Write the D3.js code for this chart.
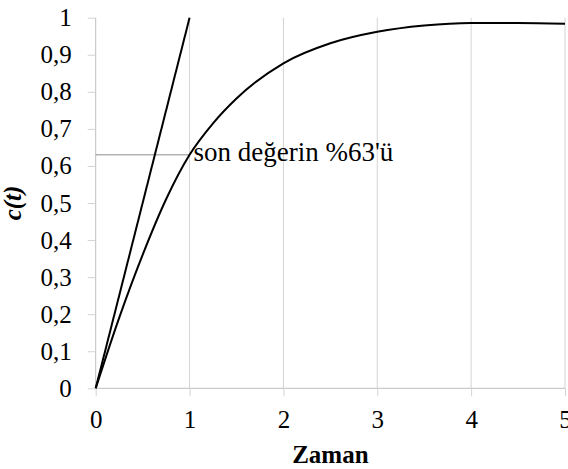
<!DOCTYPE html>
<html>
<head>
<meta charset="utf-8">
<script src="https://cdn.jsdelivr.net/npm/d3@7"></script>
<style>
  body { margin: 0; background: #fff; }
  svg { display: block; }
  text { font-family: "Liberation Serif", "Times New Roman", serif; }
</style>
</head>
<body>
<svg width="568" height="469"></svg>
<script>
// response curve c(t)
var timeVals = [0, 0.25, 0.5, 0.75, 1, 1.25, 1.5, 2, 2.5, 3, 3.5, 4, 4.5, 5]
var cVals    = [0, 0.19, 0.36, 0.51, 0.63, 0.715, 0.782, 0.877, 0.931, 0.962, 0.979, 0.986, 0.986, 0.984]
// tangent at the origin
var tangentT = [0, 1]
var tangentC = [0, 1]
var markLevel = 0.63
var markLabel = "son değerin %63'ü"
var xTicks = [0, 1, 2, 3, 4, 5]
var yTicks = [0, 0.1, 0.2, 0.3, 0.4, 0.5, 0.6, 0.7, 0.8, 0.9, 1]

var svg = d3.select("svg")
var pLeft = 95.7, pRight = 565, pTop = 17.7, pBottom = 388.3

var x = d3.scaleLinear().domain([0, 5]).range([pLeft, pRight])
var y = d3.scaleLinear().domain([0, 1]).range([pBottom, pTop])

// vertical gridlines
svg.append("g")
    .selectAll("line")
    .data(xTicks.slice(1))
    .enter().append("line")
    .attr("x1", d => x(d)).attr("x2", d => x(d))
    .attr("y1", pTop).attr("y2", pBottom)
    .style("stroke", "#d4d4d4")
    .style("stroke-width", 1)

var fmt = d => String(d).replace(".", ",")

var xAxis = svg.append("g")
    .attr("transform", "translate(0," + pBottom + ")")
    .call(d3.axisBottom(x).tickValues(xTicks).tickSize(8).tickPadding(14).tickFormat(fmt))
var yAxis = svg.append("g")
    .attr("transform", "translate(" + pLeft + ",0)")
    .call(d3.axisLeft(y).tickValues(yTicks).tickSize(8).tickPadding(16).tickFormat(fmt))

;[xAxis, yAxis].forEach(function(a) {
    a.attr("font-family", "'Liberation Serif', serif")
    a.select(".domain").style("stroke", "#bfbfbf").attr("d", function() {
        return a === xAxis ? "M" + pLeft + ",0H" + pRight : "M0," + pTop + "V" + pBottom
    })
    a.selectAll(".tick line").style("stroke", "#d4d4d4")
    a.selectAll("text").style("font-size", "25px").style("fill", "#000")
        .style("font-family", "'Liberation Serif', serif")
})

// 63% marker line
svg.append("line")
    .attr("x1", x(0)).attr("x2", x(1))
    .attr("y1", y(markLevel)).attr("y2", y(markLevel))
    .style("stroke", "#8c8c8c")
    .style("stroke-width", 1)

var line = d3.line()
    .x(d => x(d[0]))
    .y(d => y(d[1]))

svg.append("path")
    .attr("d", line.curve(d3.curveMonotoneX)(d3.zip(timeVals, cVals)))
    .style("fill", "none")
    .style("stroke", "#000")
    .style("stroke-width", 2)

svg.append("path")
    .attr("d", line.curve(d3.curveLinear)(d3.zip(tangentT, tangentC)))
    .style("fill", "none")
    .style("stroke", "#000")
    .style("stroke-width", 2)

svg.append("text")
    .attr("x", x(1) + 4)
    .attr("y", y(markLevel) + 6)
    .style("font-size", "27px")
    .text(markLabel)

svg.append("text")
    .attr("x", (pLeft + pRight) / 2)
    .attr("y", 463)
    .attr("text-anchor", "middle")
    .style("font-size", "25px")
    .style("font-weight", "bold")
    .text("Zaman")

svg.append("text")
    .attr("transform", "translate(21," + ((pTop + pBottom) / 2) + ") rotate(-90)")
    .attr("text-anchor", "middle")
    .style("font-size", "25px")
    .style("font-weight", "bold")
    .style("font-style", "italic")
    .text("c(t)")
</script>
</body>
</html>
